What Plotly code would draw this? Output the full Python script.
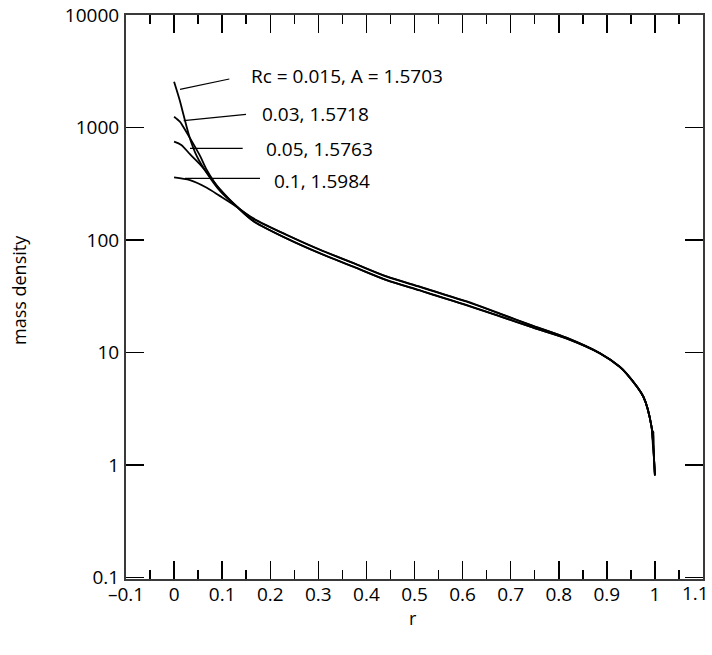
import plotly.graph_objects as go

# ---- data ----
labels = ["Rc = 0.015, A = 1.5703", "0.03, 1.5718", "0.05, 1.5763", "0.1, 1.5984"]

r_015 = [0, 0.0116, 0.02, 0.033, 0.047, 0.068, 0.095, 0.13, 0.165, 0.234, 0.304, 0.373, 0.442,
         0.511, 0.539, 0.609, 0.678, 0.747, 0.817, 0.886, 0.927, 0.941, 0.976, 0.993, 0.996, 0.997, 0.998, 1.0]
v_015 = [2552, 1755, 1279, 800, 560, 395, 275, 198, 147, 103.3, 75.9, 57.9, 44.0,
         35.7, 32.6, 26.3, 21.0, 16.65, 13.3, 9.82, 7.45, 6.5, 4.05, 2.19, 1.45, 2.0, 1.2, 0.81]

r_03 = [0, 0.012, 0.019, 0.035, 0.054, 0.068, 0.095, 0.13, 0.165, 0.234, 0.304, 0.373, 0.442,
        0.511, 0.539, 0.609, 0.678, 0.747, 0.817, 0.886, 0.927, 0.941, 0.976, 0.993, 0.997, 1.0]
v_03 = [1248, 1128, 1016, 780, 560, 420, 280, 199, 147.5, 103.5, 76.1, 58.0, 44.1,
        35.8, 32.7, 26.4, 21.0, 16.65, 13.3, 9.82, 7.47, 6.5, 4.05, 2.19, 1.36, 0.81]

r_05 = [0, 0.015, 0.033, 0.054, 0.075, 0.095, 0.13, 0.165, 0.234, 0.304, 0.373, 0.442,
        0.511, 0.539, 0.609, 0.678, 0.747, 0.817, 0.886, 0.927, 0.941, 0.976, 0.993, 0.997, 1.0]
v_05 = [748, 700, 580, 470, 365, 285, 200, 154, 111.0, 81.6, 62.3, 47.3,
        38.4, 35.1, 28.3, 22.1, 17.2, 13.5, 9.84, 7.48, 6.5, 4.05, 2.19, 1.36, 0.81]

r_1 = [0, 0.033, 0.068, 0.095, 0.123, 0.165, 0.234, 0.304, 0.373, 0.442,
       0.511, 0.539, 0.609, 0.678, 0.747, 0.817, 0.886, 0.927, 0.941, 0.976, 0.993, 0.997, 1.0]
v_1 = [361, 341, 292, 247, 207, 156, 111.5, 82.0, 62.5, 47.5,
       38.6, 35.3, 28.5, 22.2, 17.3, 13.5, 9.86, 7.5, 6.5, 4.05, 2.19, 1.36, 0.81]

series = [(r_015, v_015), (r_03, v_03), (r_05, v_05), (r_1, v_1)]

x_ticks = [-0.1, 0, 0.1, 0.2, 0.3, 0.4, 0.5, 0.6, 0.7, 0.8, 0.9, 1, 1.1]
x_ticktext = ["\u20130.1", "0", "0.1", "0.2", "0.3", "0.4", "0.5", "0.6", "0.7", "0.8", "0.9", "1", "1.1"]
y_ticks = [0.1, 1, 10, 100, 1000, 10000]
y_ticktext = ["0.1", "1", "10", "100", "1000", "10000"]

# ---- figure ----
W, H = 712, 655
L, T, R, B = 126, 15, 9, 76
FONT = "Open Sans"
FS = 19

fig = go.Figure()
for (rr, vv), name in zip(series, labels):
    fig.add_trace(go.Scatter(x=rr, y=vv, mode="lines", name=name,
                             line=dict(color="black", width=1.8, shape="spline", smoothing=0.8),
                             showlegend=False, hoverinfo="skip"))

def px(xp):
    return (xp - L) / (W - L - R)

def py(yp):
    return (H - B - yp) / (H - T - B)

# label pointer lines: (x0,y0,x1,y1) pixel positions, and text anchors
pointers = [(180, 89.3, 229.3, 79), (183.7, 120.7, 246, 114.3), (190, 148.3, 242.7, 148.3), (185, 178.3, 260, 178.3)]
text_pos = [(249, 76), (260, 114), (264, 149), (272, 181)]

shapes = []
for (x0, y0, x1, y1) in pointers:
    shapes.append(dict(type="line", xref="paper", yref="paper", x0=px(x0), y0=py(y0), x1=px(x1), y1=py(y1),
                       line=dict(color="black", width=1.2)))
annotations = []
for (tx, ty), txt in zip(text_pos, labels):
    annotations.append(dict(text=txt, xref="paper", yref="paper", x=px(tx), y=py(ty), xanchor="left",
                            yanchor="middle", showarrow=False, font=dict(family=FONT, size=FS, color="black")))
annotations.append(dict(text="r", xref="paper", yref="paper", x=px(413), y=py(618), xanchor="center",
                        yanchor="middle", showarrow=False, font=dict(family=FONT, size=18, color="black")))
annotations.append(dict(text="mass density", xref="paper", yref="paper", x=px(19), y=py(290), xanchor="center",
                        yanchor="middle", textangle=-90, showarrow=False,
                        font=dict(family=FONT, size=18, color="black")))
# the last x tick label sits against the right edge of the page, as in the reference
annotations.append(dict(text=x_ticktext[-1], xref="paper", yref="paper", x=px(711), y=py(593), xanchor="right",
                        yanchor="middle", showarrow=False, font=dict(family=FONT, size=FS, color="black")))
x_ticktext_axis = x_ticktext[:-1] + [""]

axis_common = dict(showline=True, linecolor="#3a3a3a", linewidth=2, mirror="allticks", ticks="inside",
                   ticklen=18, tickwidth=1.5, tickcolor="black", showgrid=False, zeroline=False,
                   automargin=False, ticklabeloverflow="allow",
                   tickfont=dict(family=FONT, size=FS, color="black"))

fig.update_xaxes(range=[-0.1, 1.1], tickvals=x_ticks, ticktext=x_ticktext_axis, ticklabelstandoff=-3,
                 minor=dict(ticks="inside", ticklen=9, tickwidth=1.5, tickcolor="black", dtick=0.05, tick0=-0.1,
                            showgrid=False),
                 **axis_common)
fig.update_yaxes(type="log", range=[-1.012, 4.0], tickvals=y_ticks, ticktext=y_ticktext, ticklabelstandoff=1,
                 **axis_common)

fig.update_layout(width=W, height=H, margin=dict(l=L, r=R, t=T, b=B, pad=0),
                  paper_bgcolor="white", plot_bgcolor="white", shapes=shapes, annotations=annotations,
                  hovermode=False)

# remove the browser's default page margin so the figure fills the window exactly
fig.write_html("out.html", config=dict(displayModeBar=False, staticPlot=True),
               post_script="document.body.style.margin='0px';document.body.style.overflow='hidden';")
